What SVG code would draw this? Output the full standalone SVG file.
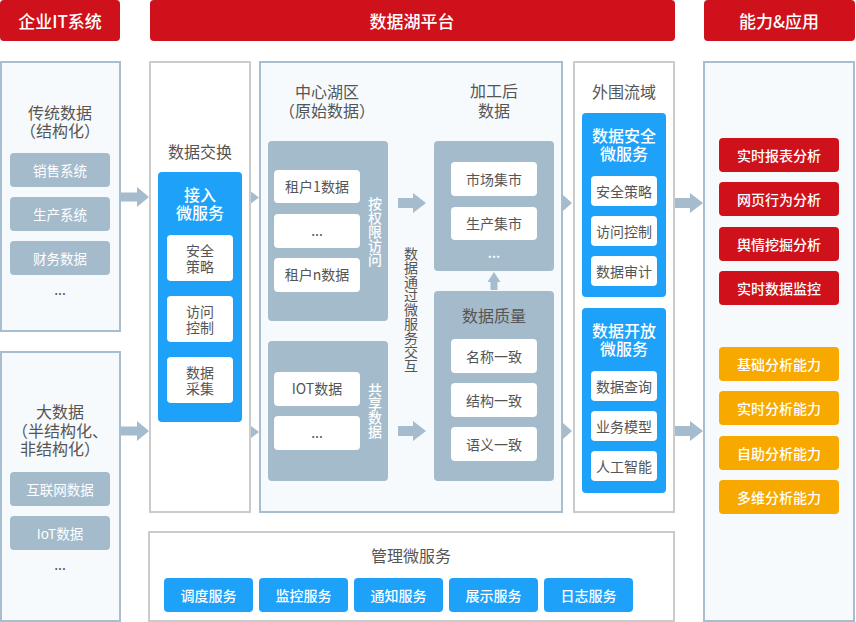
<svg xmlns="http://www.w3.org/2000/svg" width="856" height="622" viewBox="0 0 856 622">
<style>
text{font-family:"Noto Sans CJK SC","Noto Sans",sans-serif;text-anchor:middle;dominant-baseline:central}
.v{writing-mode:vertical-rl;font-size:13.6px}
.hdr{fill:#CF111B}
.hdrt{fill:#fff;font-size:17px;font-weight:500}
.pblue{fill:#F6FAFD;stroke:#A6BED0;stroke-width:2}
.pgray{fill:#fff;stroke:#CBCBCB;stroke-width:2}
.gbox{fill:#A4BBCC}
.wbox{fill:#fff}
.bbox{fill:#1DA1F9}
.rbox{fill:#CF111B}
.obox{fill:#F8A900}
.t16{fill:#555;font-size:16px}
.t14{fill:#555;font-size:14px}
.w14{fill:#fff;font-size:14px;font-weight:500}
.w16{fill:#fff;font-size:16px;font-weight:500}
.w13{fill:#fff;font-size:13.5px}
.arr{fill:#A4BCCE}
</style>

<g id="headers">
  <rect class="hdr" x="0" y="0" width="120" height="41" rx="4"/>
  <text class="hdrt" x="60" y="20">企业IT系统</text>
  <rect class="hdr" x="150" y="0" width="525" height="41" rx="4"/>
  <text class="hdrt" x="412" y="20">数据湖平台</text>
  <rect class="hdr" x="704" y="0" width="151" height="41" rx="4"/>
  <text class="hdrt" x="779" y="20">能力&amp;应用</text>
</g>

<g id="traditional">
  <rect class="pblue" x="1" y="62" width="119" height="269"/>
  <text class="t16" x="60" y="112">传统数据</text>
  <text class="t16" x="60" y="130">（结构化）</text>
  <rect class="gbox" x="10" y="153" width="100" height="34" rx="4"/>
  <text class="w13" x="60" y="170">销售系统</text>
  <rect class="gbox" x="10" y="197" width="100" height="34" rx="4"/>
  <text class="w13" x="60" y="214">生产系统</text>
  <rect class="gbox" x="10" y="241" width="100" height="34" rx="4"/>
  <text class="w13" x="60" y="258">财务数据</text>
  <text class="t14" x="60" y="289">...</text>
</g>

<g id="bigdata">
  <rect class="pblue" x="1" y="352" width="119" height="269"/>
  <text class="t16" x="60" y="411">大数据</text>
  <text class="t16" x="60" y="430">（半结构化、</text>
  <text class="t16" x="60" y="448">非结构化）</text>
  <rect class="gbox" x="10" y="472" width="100" height="34" rx="4"/>
  <text class="w13" x="60" y="489">互联网数据</text>
  <rect class="gbox" x="10" y="516" width="100" height="34" rx="4"/>
  <text class="w13" x="60" y="533">IoT数据</text>
  <text class="t14" x="60" y="564">...</text>
</g>

<g id="exchange">
  <rect class="pgray" x="150" y="62" width="100" height="450"/>
  <text class="t16" x="200" y="151">数据交换</text>
  <rect class="bbox" x="158" y="172" width="84" height="250" rx="4"/>
  <text class="w16" x="200" y="194">接入</text>
  <text class="w16" x="200" y="212">微服务</text>
  <rect class="wbox" x="167" y="235" width="66" height="46" rx="4"/>
  <text class="t14" x="200" y="250">安全</text>
  <text class="t14" x="200" y="266">策略</text>
  <rect class="wbox" x="167" y="296" width="66" height="46" rx="4"/>
  <text class="t14" x="200" y="311">访问</text>
  <text class="t14" x="200" y="327">控制</text>
  <rect class="wbox" x="167" y="357" width="66" height="46" rx="4"/>
  <text class="t14" x="200" y="372">数据</text>
  <text class="t14" x="200" y="388">采集</text>
</g>

<g id="lake">
  <rect class="pblue" x="260" y="62" width="302" height="450"/>
  <text class="t16" x="327" y="91">中心湖区</text>
  <text class="t16" x="327" y="110">（原始数据）</text>
  <rect class="gbox" x="268" y="141" width="120" height="180" rx="4"/>
  <rect class="wbox" x="274" y="170" width="86" height="33" rx="4"/>
  <text class="t14" x="317" y="186">租户1数据</text>
  <rect class="wbox" x="274" y="214" width="86" height="34" rx="4"/>
  <text class="t14" x="317" y="230">...</text>
  <rect class="wbox" x="274" y="258" width="86" height="34" rx="4"/>
  <text class="t14" x="317" y="274">租户n数据</text>
  <text class="w14 v" x="375" y="231.5">按权限访问</text>
  <rect class="gbox" x="268" y="341" width="120" height="140" rx="4"/>
  <rect class="wbox" x="274" y="372" width="86" height="34" rx="4"/>
  <text class="t14" x="317" y="388">IOT数据</text>
  <rect class="wbox" x="274" y="416" width="86" height="34" rx="4"/>
  <text class="t14" x="317" y="432">...</text>
  <text class="w14 v" x="375" y="410.5">共享数据</text>
  <text class="t14 v" x="411" y="310">数据通过微服务交互</text>
  <text class="t16" x="494" y="90">加工后</text>
  <text class="t16" x="494" y="110">数据</text>
  <rect class="gbox" x="434" y="141" width="120" height="130" rx="4"/>
  <rect class="wbox" x="451" y="162" width="86" height="34" rx="4"/>
  <text class="t14" x="494" y="179">市场集市</text>
  <rect class="wbox" x="451" y="207" width="86" height="33" rx="4"/>
  <text class="t14" x="494" y="223">生产集市</text>
  <text class="w14" x="494" y="252">...</text>
  <rect class="gbox" x="434" y="291" width="120" height="190" rx="4"/>
  <text class="t16" x="494" y="315">数据质量</text>
  <rect class="wbox" x="451" y="339" width="86" height="34" rx="4"/>
  <text class="t14" x="494" y="356">名称一致</text>
  <rect class="wbox" x="451" y="383" width="86" height="34" rx="4"/>
  <text class="t14" x="494" y="400">结构一致</text>
  <rect class="wbox" x="451" y="427" width="86" height="34" rx="4"/>
  <text class="t14" x="494" y="444">语义一致</text>
</g>

<g id="outer">
  <rect class="pgray" x="574" y="62" width="100" height="450"/>
  <text class="t16" x="624" y="91">外围流域</text>
  <rect class="bbox" x="582" y="113" width="84" height="184" rx="4"/>
  <text class="w16" x="624" y="135">数据安全</text>
  <text class="w16" x="624" y="153">微服务</text>
  <rect class="wbox" x="591" y="176" width="66" height="30" rx="4"/>
  <text class="t14" x="624" y="191">安全策略</text>
  <rect class="wbox" x="591" y="216" width="66" height="30" rx="4"/>
  <text class="t14" x="624" y="231">访问控制</text>
  <rect class="wbox" x="591" y="256" width="66" height="30" rx="4"/>
  <text class="t14" x="624" y="271">数据审计</text>
  <rect class="bbox" x="582" y="308" width="84" height="185" rx="4"/>
  <text class="w16" x="624" y="330">数据开放</text>
  <text class="w16" x="624" y="348">微服务</text>
  <rect class="wbox" x="591" y="371" width="66" height="30" rx="4"/>
  <text class="t14" x="624" y="386">数据查询</text>
  <rect class="wbox" x="591" y="411" width="66" height="30" rx="4"/>
  <text class="t14" x="624" y="426">业务模型</text>
  <rect class="wbox" x="591" y="451" width="66" height="30" rx="4"/>
  <text class="t14" x="624" y="466">人工智能</text>
</g>

<g id="capability">
  <rect class="pblue" x="704" y="62" width="150" height="559"/>
  <rect class="rbox" x="719" y="138" width="120" height="34" rx="4"/>
  <text class="w14" x="779" y="155">实时报表分析</text>
  <rect class="rbox" x="719" y="182" width="120" height="34" rx="4"/>
  <text class="w14" x="779" y="199">网页行为分析</text>
  <rect class="rbox" x="719" y="227" width="120" height="34" rx="4"/>
  <text class="w14" x="779" y="244">舆情挖掘分析</text>
  <rect class="rbox" x="719" y="271" width="120" height="34" rx="4"/>
  <text class="w14" x="779" y="288">实时数据监控</text>
  <rect class="obox" x="719" y="347" width="120" height="34" rx="4"/>
  <text class="w14" x="779" y="364">基础分析能力</text>
  <rect class="obox" x="719" y="391" width="120" height="34" rx="4"/>
  <text class="w14" x="779" y="408">实时分析能力</text>
  <rect class="obox" x="719" y="436" width="120" height="34" rx="4"/>
  <text class="w14" x="779" y="453">自助分析能力</text>
  <rect class="obox" x="719" y="480" width="120" height="34" rx="4"/>
  <text class="w14" x="779" y="497">多维分析能力</text>
</g>

<g id="management">
  <rect class="pgray" x="149" y="532" width="525" height="89"/>
  <text class="t16" x="411" y="555">管理微服务</text>
  <rect class="bbox" x="164" y="578" width="89" height="34" rx="4"/>
  <text class="w14" x="208.5" y="595">调度服务</text>
  <rect class="bbox" x="259" y="578" width="89" height="34" rx="4"/>
  <text class="w14" x="303.5" y="595">监控服务</text>
  <rect class="bbox" x="354" y="578" width="89" height="34" rx="4"/>
  <text class="w14" x="398.5" y="595">通知服务</text>
  <rect class="bbox" x="449" y="578" width="89" height="34" rx="4"/>
  <text class="w14" x="493.5" y="595">展示服务</text>
  <rect class="bbox" x="544" y="578" width="89" height="34" rx="4"/>
  <text class="w14" x="588.5" y="595">日志服务</text>
</g>

<g id="connectors">
  <path class="arr" d="M121,192.5H137V187L149,197L137,207V201.5H121Z"/>
  <path class="arr" d="M121,426.5H137V421L149,431L137,441V435.5H121Z"/>
  <path class="arr" d="M251,191.5L259,197.5L251,203.5Z"/>
  <path class="arr" d="M251,426L259,432L251,438Z"/>
  <path class="arr" d="M398,198H413V193L426,203L413,213V208H398Z"/>
  <path class="arr" d="M398,426H413V421L426,431L413,441V436H398Z"/>
  <path class="arr" d="M490.5,290V282H487.5L494,272L500.5,282H497.5V290Z"/>
  <path class="arr" d="M563,195L572,203L563,211Z"/>
  <path class="arr" d="M563,423L572,431L563,439Z"/>
  <path class="arr" d="M675,198H690V193L703,203L690,213V208H675Z"/>
  <path class="arr" d="M675,426H690V421L703,431L690,441V436H675Z"/>
</g>
</svg>
